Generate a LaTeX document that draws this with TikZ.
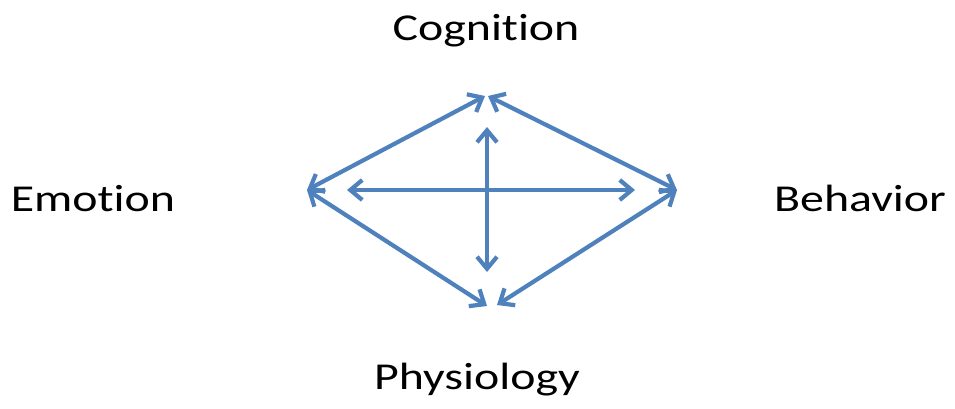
\documentclass[tikz,border=0pt]{standalone}
\usepackage{fontspec}
\usepackage{tikz}
\usetikzlibrary{arrows.meta}
\newfontfamily\labelfont{Carlito}[FakeStretch=1.26, RawFeature={-liga;-calt}]
\definecolor{linkblue}{HTML}{4F81BD}

\begin{document}
\begin{tikzpicture}[
    x=1pt, y=-1pt,
    label_text/.style={anchor=base, inner sep=0pt, font=\labelfont\fontsize{38}{40}\selectfont, color=black},
    link/.style={{Straight Barb[length=12pt,width=20pt]}-{Straight Barb[length=12pt,width=20pt]},
                 line width=4.2pt, color=linkblue}
  ]
    \useasboundingbox (0,0) rectangle (955,408);

    % labels
    \node[label_text] (cog) at (486,40)  {Cognition};
    \node[label_text] (emo) at (93,211)  {Emotion};
    \node[label_text] (beh) at (860,211) {Behavior};
    \node[label_text] (phy) at (477,389) {Physiology};

    % diamond corners and inner ends
    \coordinate (top_l) at (485,96);
    \coordinate (top_r) at (488,96);
    \coordinate (left)  at (307,190);
    \coordinate (right) at (677,190);
    \coordinate (bot_l) at (487,306);
    \coordinate (bot_r) at (497,305);
    \coordinate (in_w) at (347,190);
    \coordinate (in_e) at (635,190);
    \coordinate (in_n) at (487,127);
    \coordinate (in_s) at (487,272);

    \draw[link] (left) -- (top_l);
    \draw[link] (top_r) -- (right);
    \draw[link] (left) -- (bot_l);
    \draw[link] (bot_r) -- (right);
    \draw[link] (in_w) -- (in_e);
    \draw[link] (in_n) -- (in_s);
  \end{tikzpicture}
\end{document}
